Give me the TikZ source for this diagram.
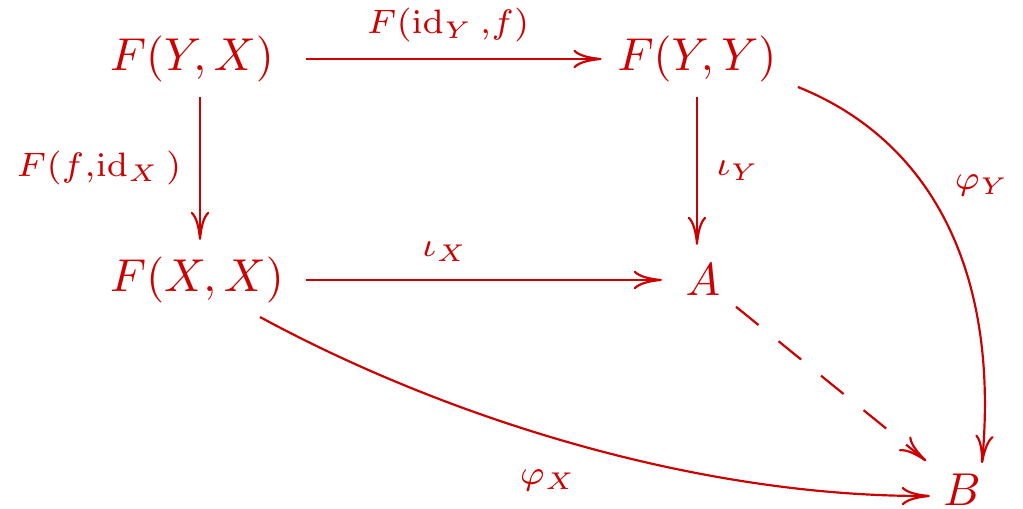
\documentclass[tikz,border=0pt]{standalone}
\usetikzlibrary{arrows.meta}
\definecolor{dred}{RGB}{204,0,0}
\newcommand{\obj}[1]{\scalebox{0.952}{$#1$}}
\begin{document}
\begin{tikzpicture}[x=0.2063pt,y=-0.2063pt,
  every node/.style={text=dred, inner sep=0pt},
  lab/.style={font=\scriptsize},
  arr/.style={draw=dred, line width=0.45pt, -{To[length=5.8pt,width=3.8pt]}},
  dsh/.style={arr, dash pattern=on 6pt off 5.3pt}]
\useasboundingbox (0,0) rectangle (1023,509);
% objects
\node (yx) at (192,59) {\obj{F(Y,X)}};
\node (yy) at (697,59) {\obj{F(Y,Y)}};
\node (xx) at (197,280) {\obj{F(X,X)}};
\node (A) at (703,280) {\obj{A}};
\node (B) at (962,490) {\obj{B}};
% labels
\node[lab] (l1) at (448,25) {$F(\mathrm{id}_Y\,{,}f)$};
\node[lab] (l2) at (99,168) {$F(f{,}\mathrm{id}_X\,)$};
\node[lab] (l3) at (445,252) {$\iota_X$};
\node[lab] (l4) at (738,171) {$\iota_Y$};
\node[lab] (l5) at (982,186) {$\varphi_Y$};
\node[lab] (l6) at (548,481) {$\varphi_X$};
% arrows
\draw[arr, shorten <=6.4pt, shorten >=3.1pt] (yx.east) -- (yy.west);
\draw[arr, shorten <=2.9pt, shorten >=3.3pt] ([shift={(8,0)}]yx.south) -- ([shift={(3,0)}]xx.north);
\draw[arr, shorten <=2.9pt, shorten >=3.8pt] (yy.south) -- ([shift={(-6,0)}]A.north);
\draw[arr, shorten <=4.3pt, shorten >=4.7pt] (xx.east) -- (A.west);
\draw[dsh, shorten <=3.9pt, shorten >=4.3pt] (A) -- (B);
\draw[arr] ([shift={(20.5,28)}]yy.east) .. controls (930,140) and (1000,270) .. ([shift={(20,-10)}]B.north);
\draw[arr] ([shift={(63,13)}]xx.south) .. controls (450,420) and (700,497) .. ([shift={(-12.5,6)}]B.west);
\end{tikzpicture}
\end{document}
